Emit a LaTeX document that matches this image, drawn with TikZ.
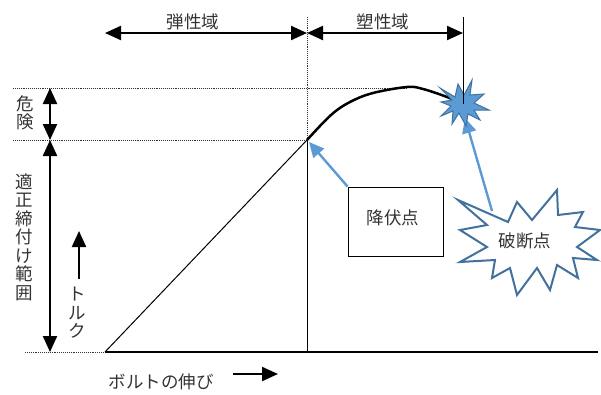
\documentclass[tikz,border=0pt]{standalone}
\usepackage{fontspec}
\setmainfont{Noto Sans CJK JP}
\usetikzlibrary{arrows.meta}
\definecolor{lblue}{HTML}{5B9BD5}
\definecolor{dblue}{HTML}{41719C}
\definecolor{txt}{HTML}{333333}
\tikzset{
  lbl/.style={font=\fontsize{17.5}{18.5}\selectfont, text=txt, inner sep=0pt, align=center},
  dimarrow/.style={line width=2.2pt, {Triangle[length=16pt,width=14pt]}-{Triangle[length=16pt,width=14pt]}},
  onearrow/.style={line width=2.2pt, -{Triangle[length=16pt,width=14pt]}},
  guide/.style={densely dotted, line width=0.9pt, black!80},
  bluearrow/.style={lblue, line width=2.4pt, -{Triangle[length=15pt,width=14pt]}},
}
\begin{document}
\begin{tikzpicture}[x=1pt,y=-1pt]
\useasboundingbox (0,0) rectangle (601,394);
% coordinates
\coordinate (o) at (105,352);
\coordinate (yp) at (307,140);
\coordinate (pk) at (407,88);
\coordinate (br) at (463,104);
\coordinate (ta) at (105,33);
\coordinate (tb) at (307,33);
\coordinate (tc) at (463,33);
% guides
\draw[guide] (13,88) -- (pk);
\draw[guide] (13,140) -- (yp);
\draw[guide] (25,352) -- (o);
\draw[guide] (307,17) -- (yp);
% axes / lines
\draw[line width=1.5pt] (o) -- (598,352);
\draw[line width=1pt] (yp) -- (307,352);
\draw[line width=1pt] (o) -- (yp);
\draw[line width=1pt] (463,17) -- (br);
\draw[line width=2.5pt] plot[smooth, tension=0.6] coordinates {(307,140) (331,115) (350,102) (373,93) (407,87) (423,89) (447,97) (463,104)};
% top dimension arrows
\draw[dimarrow] (ta) -- (tb);
\draw[dimarrow] (tb) -- (tc);
\node[lbl] (l1) at (193,22) {弾性域};
\node[lbl] (l2) at (383,22) {塑性域};
% left dimension arrows
\coordinate (d1) at (50,88);
\coordinate (d2) at (50,140);
\coordinate (d3) at (50,352);
\draw[dimarrow] (d1) -- (d2);
\draw[dimarrow] (d2) -- (d3);
\node[lbl] (l3) at (25,113) {危\\険};
\node[lbl] (l4) at (24,237) {適\\正\\締\\付\\け\\範\\囲};
% torque
\coordinate (t1) at (79,279);
\coordinate (t2) at (79,231);
\draw[onearrow] (t1) -- (t2);
\node[lbl] (l5) at (77,313) {ト\\ル\\ク};
% elongation
\node[lbl] (l6) at (161,382) {ボルトの伸び};
\coordinate (e1) at (233,374);
\coordinate (e2) at (278,374);
\draw[onearrow] (e1) -- (e2);
% yield box
\node[draw, line width=1.8pt, minimum width=95pt, minimum height=69pt, inner sep=0pt] (box) at (396,222) {};
\node[lbl] (l7) at (393,218) {降伏点};
\draw[bluearrow] (box.north west) -- (309,142);
% big star
\draw[dblue, line width=2pt, fill=white, line join=miter] (458,200) -- (508,222) -- (517,202) -- (532,220) -- (557,190) -- (558,215) -- (583,212) -- (575,227) -- (600,230) -- (577,247) -- (597,260) -- (573,258) -- (578,278) -- (557,265) -- (550,290) -- (537,268) -- (517,295) -- (510,268) -- (492,278) -- (495,260) -- (460,262) -- (487,247) -- (460,230) -- (487,225) -- cycle;
\node[lbl] (l8) at (525,241) {破断点};
\coordinate (s1) at (492,211);
\coordinate (s2) at (465,118);
\draw[bluearrow] (s1) -- (s2);
% small star
\draw[dblue, line width=1pt, fill=lblue] (440,88) -- (455,97) -- (458,84) -- (464,95) -- (472,80) -- (470,95) -- (484,94) -- (474,103) -- (489,110) -- (474,110) -- (480,120) -- (468,114) -- (466,126) -- (459,113) -- (452,124) -- (453,111) -- (441,116) -- (451,106) -- (441,102) -- (452,100) -- cycle;
\draw[line width=1pt] (463,90) -- (br);
\end{tikzpicture}
\end{document}
